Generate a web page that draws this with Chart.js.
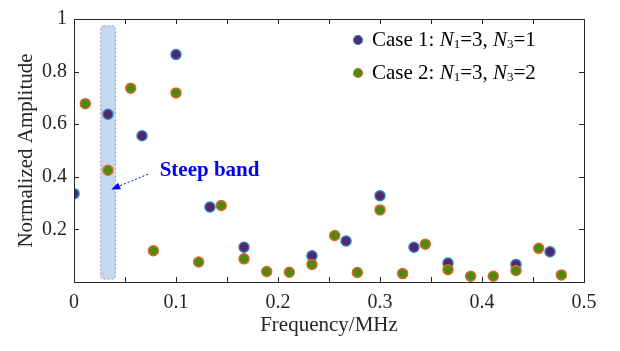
<!DOCTYPE html>
<html>
<head>
<meta charset="utf-8">
<script src="https://cdn.jsdelivr.net/npm/chart.js@4"></script>
<style>
  html, body { margin: 0; padding: 0; background: #fff; }
  #wrap { width: 620px; height: 351px; }
</style>
</head>
<body>
<div id="wrap"><canvas id="grafico"></canvas></div>
<script>
// Datos
var frecCaso1 = [0, 0.0333, 0.0667, 0.1, 0.1333, 0.1667, 0.2333, 0.2667, 0.3, 0.3333, 0.3667, 0.4333, 0.4667];
var ampCaso1 = [0.336, 0.638, 0.556, 0.865, 0.285, 0.132, 0.100, 0.156, 0.328, 0.132, 0.072, 0.067, 0.115];

var frecCaso2 = [0.0111, 0.0333, 0.0556, 0.0778, 0.1, 0.1222, 0.1444, 0.1667, 0.1889, 0.2111, 0.2333,
                 0.2556, 0.2778, 0.3, 0.3222, 0.3444, 0.3667, 0.3889, 0.4111, 0.4333, 0.4556, 0.4778];
var ampCaso2 = [0.678, 0.425, 0.737, 0.119, 0.719, 0.076, 0.291, 0.088, 0.040, 0.037, 0.067,
                0.177, 0.036, 0.274, 0.032, 0.144, 0.047, 0.022, 0.022, 0.044, 0.128, 0.027];

// Banda y anotacion (en unidades de datos)
var bandaX = [0.0262, 0.0406];
var bandaY = [0.011, 0.974];
var flechaDesde = [0.0725, 0.41];
var flechaHasta = [0.0365, 0.352];
var textoBanda = 'Steep band';
var textoBandaPos = [0.084, 0.425];

var fuente = 'Liberation Serif, "Times New Roman", serif';
var colorEje = '#262626';

function puntos(xs, ys) {
    return xs.map(function(x, i) { return {x: x, y: ys[i]}; });
}

// Banda azul, flecha, marco con ticks interiores y leyenda
var pluginExtras = {
    id: 'extras',
    beforeDatasetsDraw: function(chart) {
        var ctx = chart.ctx, sx = chart.scales.x, sy = chart.scales.y;
        var x0 = sx.getPixelForValue(bandaX[0]), x1 = sx.getPixelForValue(bandaX[1]);
        var y0 = sy.getPixelForValue(bandaY[1]), y1 = sy.getPixelForValue(bandaY[0]);
        ctx.save();
        ctx.beginPath();
        ctx.roundRect(x0, y0, x1 - x0, y1 - y0, 3);
        ctx.fillStyle = '#c4d8f0';
        ctx.fill();
        ctx.setLineDash([2, 2]);
        ctx.strokeStyle = '#9a9a9a';
        ctx.lineWidth = 1;
        ctx.stroke();
        ctx.restore();
    },
    afterDatasetsDraw: function(chart) {
        var ctx = chart.ctx, sx = chart.scales.x, sy = chart.scales.y;
        var a = chart.chartArea;
        ctx.save();

        // flecha punteada
        var ax = sx.getPixelForValue(flechaDesde[0]), ay = sy.getPixelForValue(flechaDesde[1]);
        var bx = sx.getPixelForValue(flechaHasta[0]), by = sy.getPixelForValue(flechaHasta[1]);
        var ang = Math.atan2(by - ay, bx - ax);
        ctx.strokeStyle = '#0000ff';
        ctx.fillStyle = '#0000ff';
        ctx.lineWidth = 1;
        ctx.setLineDash([2, 2]);
        ctx.beginPath();
        ctx.moveTo(ax, ay);
        ctx.lineTo(bx - 6 * Math.cos(ang), by - 6 * Math.sin(ang));
        ctx.stroke();
        ctx.setLineDash([]);
        ctx.beginPath();
        ctx.moveTo(bx, by);
        ctx.lineTo(bx - 9 * Math.cos(ang) + 3.5 * Math.sin(ang), by - 9 * Math.sin(ang) - 3.5 * Math.cos(ang));
        ctx.lineTo(bx - 9 * Math.cos(ang) - 3.5 * Math.sin(ang), by - 9 * Math.sin(ang) + 3.5 * Math.cos(ang));
        ctx.closePath();
        ctx.fill();

        ctx.font = 'bold 21px ' + fuente;
        ctx.textBaseline = 'middle';
        ctx.textAlign = 'left';
        ctx.fillText(textoBanda, sx.getPixelForValue(textoBandaPos[0]), sy.getPixelForValue(textoBandaPos[1]));

        // marco
        ctx.strokeStyle = colorEje;
        ctx.lineWidth = 1;
        ctx.strokeRect(Math.round(a.left) + 0.5, Math.round(a.top) + 0.5,
                       Math.round(a.right - a.left), Math.round(a.bottom - a.top));
        // ticks hacia dentro
        var largo = 5;
        ctx.beginPath();
        sx.ticks.forEach(function(t) {
            var px = Math.round(sx.getPixelForValue(t.value)) + 0.5;
            ctx.moveTo(px, a.bottom); ctx.lineTo(px, a.bottom - largo);
            ctx.moveTo(px, a.top); ctx.lineTo(px, a.top + largo);
        });
        sy.ticks.forEach(function(t) {
            var py = Math.round(sy.getPixelForValue(t.value)) + 0.5;
            ctx.moveTo(a.left, py); ctx.lineTo(a.left + largo, py);
            ctx.moveTo(a.right, py); ctx.lineTo(a.right - largo, py);
        });
        ctx.stroke();

        // leyenda
        var series = [
            {fill: '#52286a', borde: '#2f7ec4', n3: '1'},
            {fill: '#4d8a12', borde: '#db6a28', n3: '2'}
        ];
        var lx = 358, ly = 40, paso = 33;
        series.forEach(function(s, i) {
            var y = ly + i * paso;
            ctx.beginPath();
            ctx.arc(lx, y, 4.5, 0, Math.PI * 2);
            ctx.fillStyle = s.fill;
            ctx.fill();
            ctx.lineWidth = 1.2;
            ctx.strokeStyle = s.borde;
            ctx.stroke();

            var partes = [
                ['Case ' + (i + 1) + ': ', 'normal'],
                ['N', 'italic'], ['1', 'sub'],
                ['=3, ', 'normal'],
                ['N', 'italic'], ['3', 'sub'],
                ['=' + s.n3, 'normal']
            ];
            var x = 372;
            ctx.fillStyle = '#000';
            ctx.textBaseline = 'middle';
            partes.forEach(function(p) {
                var yy = y;
                if (p[1] === 'italic') ctx.font = 'italic 21px ' + fuente;
                else if (p[1] === 'sub') { ctx.font = '13px ' + fuente; yy = y + 5; }
                else ctx.font = '21px ' + fuente;
                ctx.fillText(p[0], x, yy);
                x += ctx.measureText(p[0]).width;
            });
        });
        ctx.restore();
    }
};

var grafico = new Chart(document.getElementById('grafico').getContext('2d'), {
    type: 'scatter',
    data: {
        datasets: [{
            label: 'Case 1',
            data: puntos(frecCaso1, ampCaso1),
            backgroundColor: '#52286a',
            borderColor: '#2f7ec4',
            borderWidth: 1.5,
            pointRadius: 5,
            order: 1
        }, {
            label: 'Case 2',
            data: puntos(frecCaso2, ampCaso2),
            backgroundColor: '#4d8a12',
            borderColor: '#db6a28',
            borderWidth: 1.5,
            pointRadius: 5,
            order: 0
        }]
    },
    options: {
        responsive: true,
        maintainAspectRatio: false,
        animation: false,
        layout: { padding: { left: 0, top: 9, right: 36, bottom: 0 } },
        plugins: {
            legend: { display: false },
            tooltip: { enabled: false }
        },
        scales: {
            x: {
                type: 'linear',
                min: 0,
                max: 0.5,
                afterFit: function(s) { s.height = 69; },
                grid: { display: false, drawTicks: false },
                border: { display: false },
                ticks: {
                    stepSize: 0.05,
                    autoSkip: false,
                    maxRotation: 0,
                    padding: 9,
                    color: colorEje,
                    font: { family: fuente, size: 20 },
                    callback: function(v) {
                        var c = Math.round(v * 100);
                        if (c % 10 !== 0) return '';
                        return c === 0 ? '0' : (c / 100).toString();
                    }
                },
                title: {
                    display: true,
                    text: 'Frequency/MHz',
                    color: colorEje,
                    font: { family: fuente, size: 21 },
                    padding: { top: 0, bottom: 13 }
                }
            },
            y: {
                min: 0,
                max: 1,
                afterFit: function(s) { s.width = 74; },
                grid: { display: false, drawTicks: false },
                border: { display: false },
                ticks: {
                    stepSize: 0.2,
                    padding: 7,
                    color: colorEje,
                    font: { family: fuente, size: 20 },
                    callback: function(v) {
                        var c = Math.round(v * 10);
                        if (c === 0) return '';
                        return c === 10 ? '1' : (c / 10).toString();
                    }
                },
                title: {
                    display: true,
                    text: 'Normalized Amplitude',
                    color: colorEje,
                    font: { family: fuente, size: 21 },
                    padding: { top: 14, bottom: 0 }
                }
            }
        }
    },
    plugins: [pluginExtras]
});
</script>
</body>
</html>
